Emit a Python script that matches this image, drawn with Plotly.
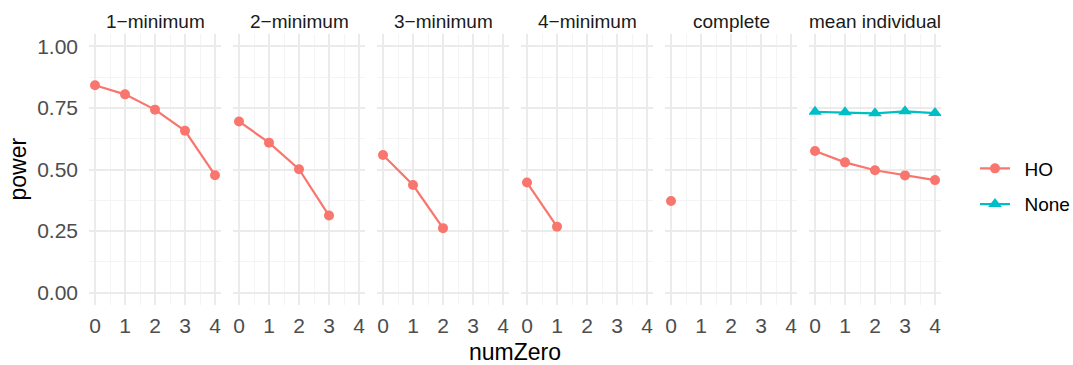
import plotly.graph_objects as go

# ---- data ----
panels = ["1\u2212minimum", "2\u2212minimum", "3\u2212minimum", "4\u2212minimum", "complete", "mean individual"]
ho_x = [[0, 1, 2, 3, 4], [0, 1, 2, 3], [0, 1, 2], [0, 1], [0], [0, 1, 2, 3, 4]]
ho_y = [
    [0.842, 0.805, 0.743, 0.657, 0.477],
    [0.695, 0.609, 0.501, 0.313],
    [0.559, 0.437, 0.262],
    [0.447, 0.268],
    [0.372],
    [0.575, 0.529, 0.497, 0.476, 0.457],
]
none_x = [0, 1, 2, 3, 4]
none_y = [0.734, 0.732, 0.728, 0.736, 0.729]
y_ticks = [0.0, 0.25, 0.5, 0.75, 1.0]
y_ticklabels = ["0.00", "0.25", "0.50", "0.75", "1.00"]
x_ticks = [0, 1, 2, 3, 4]

HO_COL = "#F8766D"
NONE_COL = "#00BFC4"
FONT = "Liberation Sans, Arial, sans-serif"

W, H = 1073, 365
ML, MR, MT, MB = 89, 132, 34, 60
plot_w = W - ML - MR
plot_h = H - MT - MB
panel_w, gap = 132, 12

fig = go.Figure()
layout = dict()
annotations = []
for i, name in enumerate(panels):
    x0 = i * (panel_w + gap) / plot_w
    x1 = (i * (panel_w + gap) + panel_w) / plot_w
    xa = "xaxis" if i == 0 else f"xaxis{i+1}"
    ya = "yaxis" if i == 0 else f"yaxis{i+1}"
    xref = "x" if i == 0 else f"x{i+1}"
    yref = "y" if i == 0 else f"y{i+1}"
    layout[xa] = dict(
        domain=[x0, x1], range=[-0.2, 4.2], tickvals=x_ticks,
        showgrid=True, gridcolor="#EBEBEB", gridwidth=1.6, zeroline=False,
        showline=False, ticks="", tickfont=dict(size=21, color="#4D4D4D", family=FONT),
        ticklabelstandoff=6,
        minor=dict(dtick=0.5, tick0=0, showgrid=True, gridcolor="#F4F4F4", gridwidth=1),
        anchor=yref, fixedrange=True,
    )
    layout[ya] = dict(
        domain=[0, 1], range=[-0.05, 1.05], tickvals=y_ticks, ticktext=y_ticklabels,
        showgrid=True, gridcolor="#EBEBEB", gridwidth=1.6, zeroline=False,
        showline=False, ticks="", showticklabels=(i == 0),
        tickfont=dict(size=21, color="#4D4D4D", family=FONT),
        ticklabelstandoff=10,
        minor=dict(dtick=0.125, tick0=0, showgrid=True, gridcolor="#F4F4F4", gridwidth=1),
        anchor=xref, fixedrange=True,
    )
    if i > 0:
        layout[ya]["matches"] = "y"
    annotations.append(dict(
        text=name, x=(x0 + x1) / 2, y=1, xref="paper", yref="paper",
        xanchor="center", yanchor="bottom", yshift=0, showarrow=False,
        font=dict(size=19, color="#1A1A1A", family=FONT),
    ))
    fig.add_trace(go.Scatter(
        x=ho_x[i], y=ho_y[i], mode="lines+markers", xaxis=xref, yaxis=yref,
        line=dict(color=HO_COL, width=2.2), marker=dict(color=HO_COL, size=10, symbol="circle"),
        name="\u2002HO", legendgroup="HO", showlegend=(i == 0),
    ))
    if i == len(panels) - 1:
        fig.add_trace(go.Scatter(
            x=none_x, y=none_y, mode="lines+markers", xaxis=xref, yaxis=yref,
            line=dict(color=NONE_COL, width=2.2), marker=dict(color=NONE_COL, size=12, symbol="triangle-up"),
            name="\u2002None", legendgroup="None", showlegend=True,
        ))

annotations.append(dict(
    text="numZero", x=0.5, y=0, xref="paper", yref="paper", xanchor="center", yanchor="middle",
    yshift=-47, showarrow=False, font=dict(size=23, color="black", family=FONT),
))
annotations.append(dict(
    text="power", x=0, y=0.5, xref="paper", yref="paper", xanchor="center", yanchor="middle",
    xshift=-72, textangle=-90, showarrow=False, font=dict(size=23, color="black", family=FONT),
))

fig.update_layout(
    **layout,
    annotations=annotations,
    width=W, height=H,
    margin=dict(l=ML, r=MR, t=MT, b=MB, autoexpand=False),
    paper_bgcolor="white", plot_bgcolor="white",
    font=dict(family=FONT),
    legend=dict(
        x=1 + 34 / plot_w, y=0.5 - 17 / plot_h, xanchor="left", yanchor="middle",
        font=dict(size=19, color="black", family=FONT),
        tracegroupgap=8, bgcolor="rgba(0,0,0,0)",
    ),
)

fig.write_html("out.html")
